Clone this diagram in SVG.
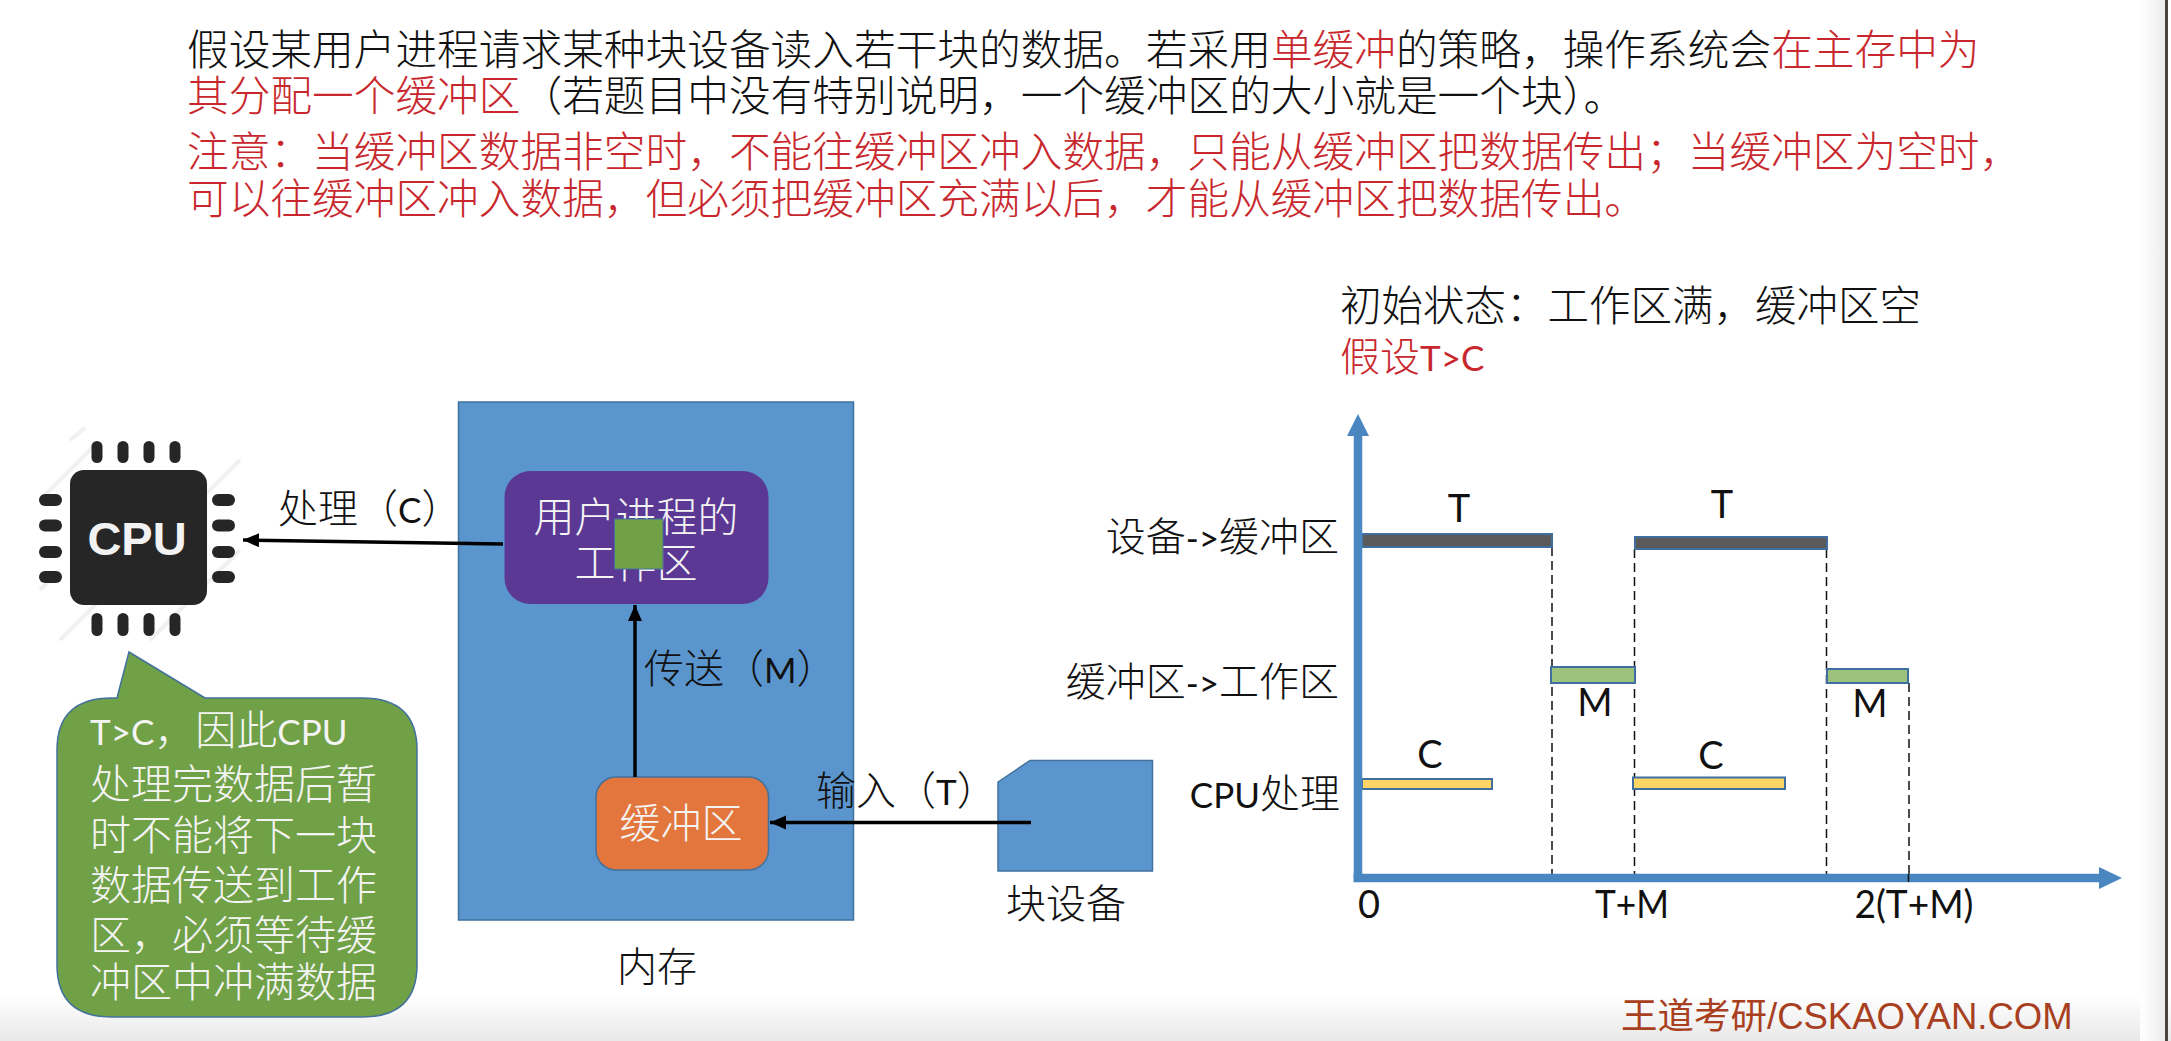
<svg xmlns="http://www.w3.org/2000/svg" width="2171" height="1041" viewBox="0 0 2171 1041">
<defs>
<marker id="ah" markerUnits="userSpaceOnUse" markerWidth="18" markerHeight="16" refX="16" refY="7" orient="auto"><path d="M0 0L16 7L0 14Z" fill="#000"/></marker>
<linearGradient id="bot" x1="0" y1="0" x2="0" y2="1"><stop offset="0" stop-color="#fff"/><stop offset="1" stop-color="#e8e8e8"/></linearGradient>
<linearGradient id="side" x1="0" y1="0" x2="1" y2="0"><stop offset="0" stop-color="#fff"/><stop offset="1" stop-color="#ececec"/></linearGradient>
</defs>
<style>
text{font-family:Lato,"Noto Sans CJK SC",sans-serif;font-size:40px;font-weight:300;fill:#111}
.top{font-family:"Noto Sans CJK SC",sans-serif;font-size:41.7px}
.red{fill:#c8282d}
.w{fill:#f4f4f4;font-size:41px}
.c{text-anchor:middle}
.e{text-anchor:end}
.l{font-size:35px;font-weight:400}
.lat{font-size:38px;font-weight:400;text-anchor:middle}
.box{stroke:#41719c;stroke-width:1.5}
.ln{fill:none;stroke:#000;stroke-width:3.5}
.dash{fill:none;stroke:#111;stroke-width:1.5;stroke-dasharray:9 5}
.pin{fill:#262626}
.hatch{stroke:#f0f0f0;stroke-width:4}
.t{fill:#5a5a5a}.m{fill:#9cc27e}.y{fill:#ffd566}
.bar{stroke:#3f6f9f;stroke-width:2}
</style>
<rect width="2171" height="1041" fill="#fff"/>
<rect y="995" width="2171" height="46" fill="url(#bot)"/>
<rect x="2140" width="25" height="1041" fill="url(#side)"/>
<rect x="2165" width="3" height="1041" fill="#4a4540"/>

<g id="intro">
<text class="top" x="187" y="65">假设某用户进程请求某种块设备读入若干块的数据。若采用<tspan class="red">单缓冲</tspan>的策略&#xFF0C;操作系统会<tspan class="red">在主存中为</tspan></text>
<text class="top" x="187" y="111"><tspan class="red">其分配一个缓冲区</tspan>&#xFF08;若题目中没有特别说明&#xFF0C;一个缓冲区的大小就是一个块&#xFF09;。</text>
<text class="top red" x="187" y="167">注意&#xFF1A;当缓冲区数据非空时&#xFF0C;不能往缓冲区冲入数据&#xFF0C;只能从缓冲区把数据传出&#xFF1B;当缓冲区为空时&#xFF0C;</text>
<text class="top red" x="187" y="214">可以往缓冲区冲入数据&#xFF0C;但必须把缓冲区充满以后&#xFF0C;才能从缓冲区把数据传出。</text>
</g>

<g id="cpu">
<path class="hatch" d="M40 500L95 445M60 640L240 460M150 640L240 550M70 440L85 428M40 590L60 570"/>
<rect x="70" y="470" width="137" height="135" rx="14" fill="#262626"/>
<g class="pin">
<rect x="91.500" y="441" width="11" height="22" rx="5.500"/><rect x="117.500" y="441" width="11" height="22" rx="5.500"/><rect x="143.500" y="441" width="11" height="22" rx="5.500"/><rect x="169.500" y="441" width="11" height="22" rx="5.500"/>
<rect x="91.500" y="613" width="11" height="23" rx="5.500"/><rect x="117.500" y="613" width="11" height="23" rx="5.500"/><rect x="143.500" y="613" width="11" height="23" rx="5.500"/><rect x="169.500" y="613" width="11" height="23" rx="5.500"/>
<rect x="39" y="494" width="23" height="12" rx="6"/><rect x="39" y="519.500" width="23" height="12" rx="6"/><rect x="39" y="546" width="23" height="12" rx="6"/><rect x="39" y="571" width="23" height="12" rx="6"/>
<rect x="212" y="494" width="23" height="12" rx="6"/><rect x="212" y="519.500" width="23" height="12" rx="6"/><rect x="212" y="546" width="23" height="12" rx="6"/><rect x="212" y="571" width="23" height="12" rx="6"/>
</g>
<text x="137" y="555" class="c" style="font-family:'Liberation Sans',sans-serif;font-size:47px;font-weight:700;fill:#f2f2f2">CPU</text>
</g>

<g id="callout">
<path class="box" fill="#70a147" d="M117 698L129 652L205 698H362Q417 698 417 750V965Q417 1017 362 1017H112Q57 1017 57 965V750Q57 698 112 698Z"/>
<text class="w" x="90" y="745"><tspan class="l">T&gt;C</tspan>&#xFF0C;因此<tspan class="l">CPU</tspan></text>
<text class="w" x="90" y="799">处理完数据后暂</text>
<text class="w" x="90" y="850">时不能将下一块</text>
<text class="w" x="90" y="900">数据传送到工作</text>
<text class="w" x="90" y="950">区&#xFF0C;必须等待缓</text>
<text class="w" x="90" y="997">冲区中冲满数据</text>
</g>

<g id="memory">
<rect class="box" x="458.500" y="402" width="395" height="518" fill="#5b95cd"/>
<text x="617" y="981">内存</text>
</g>
<g id="workarea">
<rect x="504.500" y="471" width="264" height="133" rx="26" fill="#5b3893"/>
<text class="w c" x="636" y="532">用户进程的</text>
<text class="w c" x="636" y="578">工作区</text>
<rect x="614.500" y="519" width="48.500" height="50" fill="#70a147" stroke="#41719c"/>
</g>
<g id="buffer">
<rect class="box" x="596" y="777" width="172.500" height="93" rx="20" fill="#e2763c"/>
<text class="w c" x="681" y="838">缓冲区</text>
</g>
<g id="device">
<path class="box" d="M998 782L1030 760.500H1152.500V871H998Z" fill="#5b95cd"/>
<text x="1006" y="918">块设备</text>
</g>

<g id="connectors">
<path class="ln" d="M503 544L243 540" marker-end="url(#ah)"/>
<path class="ln" d="M635 777V605" marker-end="url(#ah)"/>
<path class="ln" d="M1031 822.500H770" marker-end="url(#ah)"/>
</g>
<g id="edge-labels">
<text x="278" y="523">处理&#xFF08;<tspan class="l">C</tspan>&#xFF09;</text>
<text x="644" y="683">传送&#xFF08;<tspan class="l">M</tspan>&#xFF09;</text>
<text x="816" y="805">输入&#xFF08;<tspan class="l">T</tspan>&#xFF09;</text>
</g>

<g id="chart">
<text x="1340" y="321" style="font-size:41.5px">初始状态&#xFF1A;工作区满&#xFF0C;缓冲区空</text>
<text class="red" x="1340" y="371">假设<tspan class="l">T&gt;C</tspan></text>
<text class="e" x="1339" y="551">设备<tspan class="l">-&gt;</tspan>缓冲区</text>
<text class="e" x="1339" y="696">缓冲区<tspan class="l">-&gt;</tspan>工作区</text>
<text class="e" x="1340" y="808"><tspan class="l">CPU</tspan>处理</text>
<path class="dash" d="M1552 547V876M1634.500 549V876M1826.500 549V876M1909 683V876"/>
<rect class="bar t" x="1362" y="534" width="190" height="13"/>
<rect class="bar t" x="1635" y="537" width="192" height="12"/>
<rect class="bar m" x="1551" y="667" width="84" height="16"/>
<rect class="bar m" x="1827" y="669" width="81" height="14"/>
<rect class="bar y" x="1362" y="779" width="130" height="10"/>
<rect class="bar y" x="1633" y="777.500" width="152" height="11.500"/>
<path d="M1358 878V430" fill="none" stroke="#4a86c0" stroke-width="8.500"/>
<path d="M1347 436L1358 414L1369 436Z" fill="#4a86c0"/>
<path d="M1353.500 878H2100" fill="none" stroke="#4a86c0" stroke-width="8.500"/>
<path d="M2099 867L2122 878L2099 889Z" fill="#4a86c0"/>
<path d="M1908.500 874V882" stroke="#111" stroke-width="1.500"/>
<text class="lat" x="1459" y="522">T</text>
<text class="lat" x="1722" y="518">T</text>
<text class="lat" x="1595" y="716">M</text>
<text class="lat" x="1870" y="717">M</text>
<text class="lat" x="1430" y="768">C</text>
<text class="lat" x="1711" y="769">C</text>
<text class="lat" x="1369" y="918">0</text>
<text class="lat" x="1632" y="918" textLength="74" lengthAdjust="spacingAndGlyphs">T+M</text>
<text class="lat" x="1914" y="918" textLength="119" lengthAdjust="spacingAndGlyphs">2(T+M)</text>
</g>

<text x="1621" y="1029" style="font-family:'Liberation Sans','Noto Sans CJK SC',sans-serif;font-size:36.500px;font-weight:400;fill:#a8401f">王道考研/CSKAOYAN.COM</text>
</svg>
